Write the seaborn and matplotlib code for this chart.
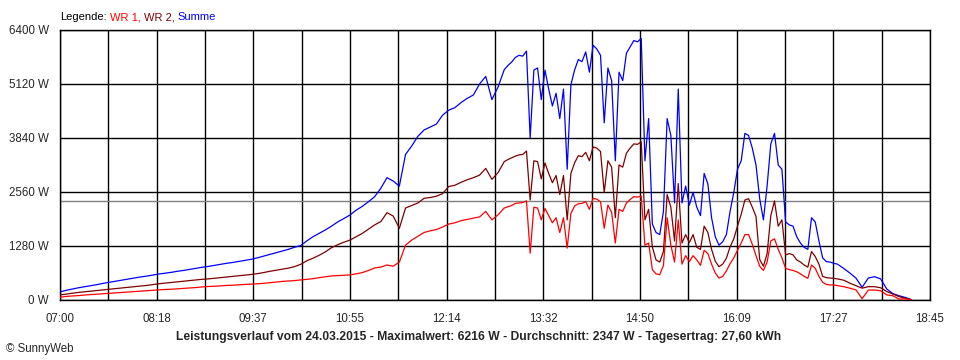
import numpy as np
import pandas as pd
import matplotlib
matplotlib.use('Agg')
import matplotlib.pyplot as plt
import seaborn as sns

# time axis: minutes after midnight (5 min steps, 3 min steps in the afternoon)
minuten = np.concatenate([np.arange(420, 776, 5),
                          np.arange(780, 1048, 3),
                          np.arange(1050, 1111, 5)])

# WR 1 (red), W
wr1 = [65, 85, 95, 105, 118, 128, 140, 150, 160, 170, 180, 190, 200, 210, 220, 230,
       240, 250, 255, 265, 275, 285, 295, 310, 320, 325, 335, 345, 350, 360, 370, 375,
       385, 395, 410, 425, 440, 450, 460, 475, 490, 505, 530, 550, 570, 580, 585, 595,
       620, 650, 700, 760, 780, 830, 800, 900, 1300, 1420, 1510, 1600, 1640, 1670, 1730, 1800,
       1830, 1880, 1910, 1940, 1970, 2100, 1900, 2020,
       # 13:00 - 17:27
       2180, 2210, 2240, 2290, 2300, 2310, 2350, 1110, 2200, 2180, 1900, 2170, 2000, 1830, 1950, 1600,
       1950, 1230, 2050, 2230, 2280, 2290, 2330, 2150, 2410, 2390, 2330, 1700, 2250, 2080, 1350, 2150,
       2100, 2300, 2380, 2450, 2440, 2460, 1300, 1350, 720, 620, 600, 820, 1950, 1300, 900, 1900,
       850, 1050, 910, 1050, 950, 820, 1180, 1100, 850, 640, 520, 560, 690, 860, 1000, 1180,
       1350, 1550, 1550, 1320, 1050, 800, 700, 900, 1400, 1450, 1200, 1000, 750, 720, 700, 670,
       620, 560, 514, 830, 750, 560, 420, 370, 356, 356,
       # 17:30 - 18:30
       340, 316, 280, 240, 30, 235, 237, 220, 120, 100, 20, 30, 5]

# WR 2 (dark red), W
wr2 = [120, 140, 160, 180, 195, 210, 225, 240, 255, 270, 285, 300, 315, 330, 345, 365,
       385, 400, 415, 430, 445, 460, 475, 490, 500, 515, 530, 545, 560, 575, 590, 605,
       625, 650, 680, 705, 730, 755, 790, 845, 930, 990, 1060, 1140, 1240, 1310, 1370, 1420,
       1500, 1580, 1680, 1780, 1860, 2070, 1990, 1700, 2180, 2240, 2300, 2410, 2430, 2460, 2520, 2690,
       2720, 2790, 2850, 2900, 2960, 3120, 2860, 3020,
       # 13:00 - 17:27
       3280, 3330, 3370, 3410, 3440, 3450, 3530, 2370, 3300, 3280, 2870, 3250, 3000, 2780, 2950, 2500,
       2950, 1900, 3000, 3250, 3420, 3400, 3500, 3300, 3630, 3600, 3520, 2550, 3300, 3150, 1950, 3200,
       3150, 3480, 3600, 3700, 3690, 3750, 1900, 2150, 1260, 950, 900, 1150, 2500, 2200, 1400, 2760,
       1350, 1550, 1360, 1550, 1250, 1200, 1750, 1600, 1200, 920, 790, 850, 990, 1260, 1450, 1750,
       2030, 2370, 2400, 2200, 1980, 960, 800, 1100, 2000, 2350, 1750, 1900, 1070, 1100, 1070, 950,
       900, 830, 780, 1150, 1030, 850, 560, 530, 520, 514,
       # 17:30 - 18:30
       500, 470, 400, 340, 280, 316, 316, 290, 200, 140, 80, 40, 5]

# Summe (blue), W
summe = [190, 230, 260, 290, 315, 340, 365, 395, 420, 445, 470, 495, 520, 545, 565, 590,
         615, 635, 655, 680, 700, 725, 750, 775, 795, 820, 845, 870, 890, 915, 940, 965,
         1000, 1040, 1080, 1120, 1160, 1200, 1250, 1290, 1400, 1500, 1580, 1660, 1750, 1850, 1930, 2015,
         2130, 2220, 2330, 2450, 2650, 2900, 2820, 2700, 3450, 3650, 3880, 4030, 4100, 4170, 4380, 4500,
         4560, 4680, 4780, 4860, 5120, 5300, 4750, 5050,
         # 13:00 - 17:27
         5460, 5560, 5640, 5750, 5800, 5780, 5900, 3840, 5450, 5500, 4750, 5450, 5000, 4600, 4900, 4300,
         5000, 3100, 5100, 5450, 5700, 5650, 5880, 5400, 6040, 5950, 5800, 4200, 5500, 5200, 3300, 5400,
         5200, 5850, 6000, 6150, 6120, 6200, 3300, 4300, 1800, 1600, 1550, 2100, 4300, 3900, 2300, 5000,
         2300, 2700, 2250, 2550, 2200, 2000, 3000, 2750, 1950, 1500, 1300, 1380, 1550, 2100, 2550, 3100,
         3300, 3950, 3900, 3600, 3200, 2400, 1900, 2700, 3700, 3950, 3200, 3100, 1850, 1780, 1750, 1500,
         1350, 1250, 1200, 1950, 1850, 1400, 1000, 910, 900, 870,
         # 17:30 - 18:30
         850, 750, 640, 520, 300, 520, 553, 500, 260, 150, 100, 60, 10]

durchschnitt = 2347
y_ticks = [0, 1280, 2560, 3840, 5120, 6400]
y_labels = ['0 W', '1280 W', '2560 W', '3840 W', '5120 W', '6400 W']
x_labels = ['07:00', '08:18', '09:37', '10:55', '12:14', '13:32', '14:50', '16:09', '17:27', '18:45']
farben = {'WR 1': '#ff0000', 'WR 2': '#800000', 'Summe': '#0000ff'}

sns.set_style('white')
plt.rcParams['font.family'] = ['Liberation Sans', 'DejaVu Sans']

df = pd.DataFrame({'minute': minuten, 'WR 1': wr1, 'WR 2': wr2, 'Summe': summe})
lang = df.melt(id_vars='minute', var_name='serie', value_name='leistung')

fig = plt.figure(figsize=(9.6, 3.6), dpi=100)
ax = fig.add_axes([60 / 960, 60 / 360, 870 / 960, 270 / 360])

x0, x1 = 420, 1125
ax.set_xlim(x0, x1)
ax.set_ylim(0, 6400)

schritt = (x1 - x0) / 18
ax.set_xticks([x0 + 2 * k * schritt for k in range(10)])
ax.set_xticklabels(x_labels)
ax.set_xticks([x0 + (2 * k + 1) * schritt for k in range(9)], minor=True)
ax.set_yticks(y_ticks)
ax.set_yticklabels(y_labels)
ax.grid(True, which='both', color='black', linewidth=1.0)
ax.set_axisbelow(True)
ax.axhline(durchschnitt, color='#808080', linewidth=1.0, zorder=1.5)

sns.lineplot(data=lang, x='minute', y='leistung', hue='serie',
             hue_order=['Summe', 'WR 2', 'WR 1'], palette=farben,
             estimator=None, linewidth=0.9, legend=False, ax=ax, zorder=3)

ax.set_xlabel('')
ax.set_ylabel('')
ax.tick_params(axis='x', which='both', direction='out', length=4, width=1,
               color='black', pad=5, labelsize=8.3)
ax.tick_params(axis='y', direction='out', length=6, width=1, color='black',
               pad=2, labelsize=8.3)
for s in ax.spines.values():
    s.set_color('black')
    s.set_linewidth(1.0)

# legend line at the top, pieces placed one after another
fy = 1 - 17 / 360
renderer = fig.canvas.get_renderer()
x_px = 60
for teil, farbe in [('Legende:', 'black'), ('WR 1,', farben['WR 1']),
                    ('WR 2,', farben['WR 2']), ('Summe', farben['Summe'])]:
    t = fig.text(x_px / 960, fy, teil, color=farbe, fontsize=8, va='center')
    x_px = t.get_window_extent(renderer).x1 + 3

fig.text(479 / 960, 1 - 337 / 360,
         'Leistungsverlauf vom 24.03.2015 - Maximalwert: 6216 W - '
         'Durchschnitt: 2347 W - Tagesertrag: 27,60 kWh',
         fontsize=8.7, fontweight='bold', ha='center', va='center')
fig.text(6 / 960, 1 - 349 / 360, '\u00a9 SunnyWeb', fontsize=8.3, va='center')

fig.savefig('out.png', dpi=100, facecolor='white')
